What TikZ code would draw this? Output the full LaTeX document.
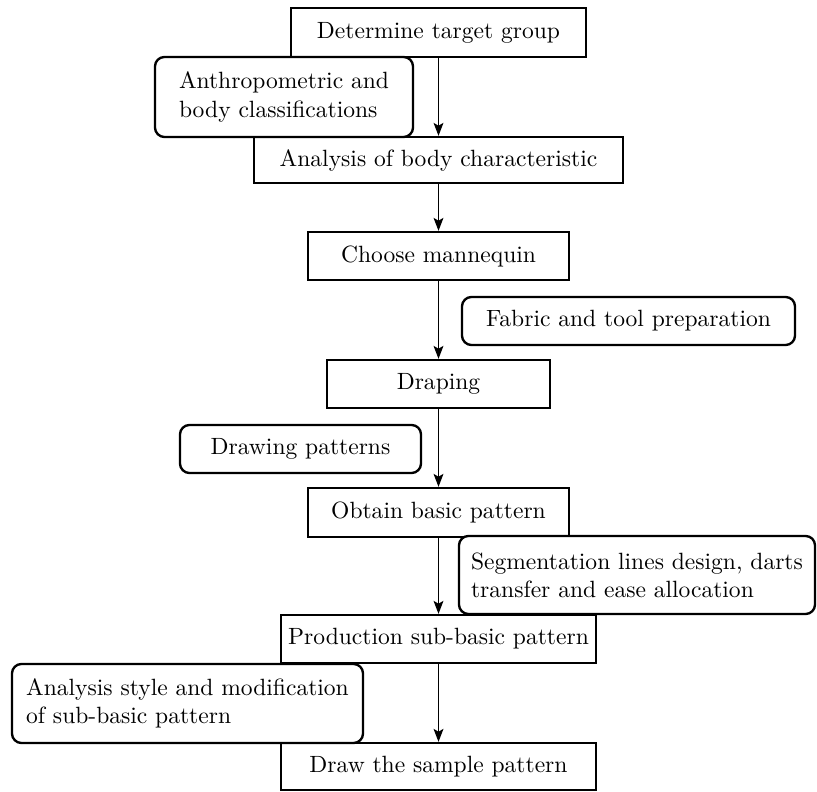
\documentclass[tikz,border=0pt]{standalone}
\usetikzlibrary{arrows.meta}
\newcommand\mkbox[7][mainbox]{%
  \node[#1, minimum width={(#5-#3)*0.425pt}, minimum height={(#6-#4)*0.425pt}]
    (#2) at ({(#3+#5)/2},{(#4+#6)/2}) {#7};}
\begin{document}
\begin{tikzpicture}[x=0.425pt,y=-0.425pt,
  mainbox/.style={draw, line width=1pt, inner sep=0pt, align=center},
  sidebox/.style={draw, line width=1pt, inner sep=0pt, rounded corners=4pt, align=left, fill=white},
  arr/.style={-{Stealth[length=5.5pt,width=4.2pt,inset=1.2pt]}, line width=0.5pt}]
\useasboundingbox (0,0) rectangle (817,792);
\mkbox{det}{291}{8}{586}{57}{Determine target group}
\mkbox[sidebox]{anth}{155}{57}{413}{137}{Anthropometric and\\body classifications}
\mkbox{ana}{254}{137}{623}{183}{Analysis of body characteristic}
\mkbox{cho}{308}{232}{569}{280}{Choose mannequin}
\mkbox[sidebox]{fab}{462}{297}{795}{345}{Fabric and tool preparation}
\mkbox{dra}{327}{360}{550}{408}{Draping}
\mkbox[sidebox]{drw}{180}{425}{421}{473}{Drawing patterns}
\mkbox{obt}{308}{488}{569}{537}{Obtain basic pattern}
\mkbox[sidebox]{seg}{459}{536}{815}{614}{Segmentation lines design, darts\\transfer and ease allocation}
\mkbox{pro}{281}{615}{596}{663}{Production sub-basic pattern}
\mkbox[sidebox]{ans}{12}{664}{363}{743}{Analysis style and modification\\of sub-basic pattern}
\mkbox{drs}{281}{743}{596}{790}{Draw the sample pattern}
\draw[arr] (det) -- (ana);
\draw[arr] (ana) -- (cho);
\draw[arr] (cho) -- (dra);
\draw[arr] (dra) -- (obt);
\draw[arr] (obt) -- (pro);
\draw[arr] (pro) -- (drs);
\end{tikzpicture}
\end{document}
